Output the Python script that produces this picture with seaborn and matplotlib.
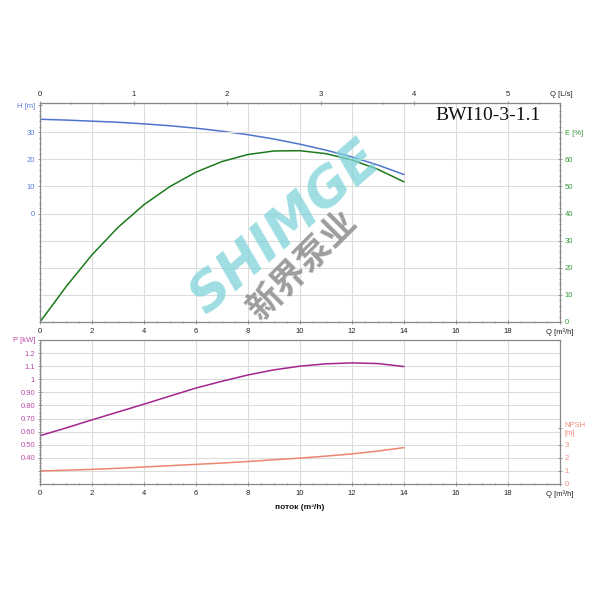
import matplotlib
matplotlib.use("Agg")
import matplotlib.pyplot as plt
import seaborn as sns
from matplotlib.ticker import MultipleLocator

sns.set_style("white")
plt.rcParams['font.family'] = ['Liberation Sans', 'Noto Sans CJK SC', 'DejaVu Sans']

# Pump curve data
flow = [0, 1, 2, 3, 4, 5, 6, 7, 8, 9, 10, 11, 12, 13, 14]          # m3/h
head = [34.8, 34.5, 34.1, 33.7, 33.1, 32.4, 31.5, 30.4, 29.1, 27.5, 25.6, 23.4, 20.9, 17.9, 14.4]
eff = [0, 13.0, 24.8, 34.9, 43.3, 50.0, 55.3, 59.2, 61.8, 63.1, 63.2, 62.1, 59.8, 56.3, 51.7]
power = [0.569, 0.628, 0.69, 0.75, 0.81, 0.872, 0.933, 0.985, 1.033, 1.072, 1.100, 1.118, 1.125, 1.120, 1.097]
npsh = [1.0, 1.05, 1.12, 1.2, 1.3, 1.4, 1.5, 1.6, 1.72, 1.85, 1.98, 2.13, 2.3, 2.52, 2.78]

q_ticks = [0, 2, 4, 6, 8, 10, 12, 14, 16, 18, 20]
q_labels = ['0', '2', '4', '6', '8', '10', '12', '14', '16', '18', 'Q [m³/h]']
ls_ticks = [0, 1, 2, 3, 4, 5]
h_ticks = [0, 10, 20, 30, 40]
h_labels = ['0', '10', '20', '30', 'H [m]']
e_ticks = [0, 10, 20, 30, 40, 50, 60, 70]
e_labels = ['0', '10', '20', '30', '40', '50', '60', 'E [%]']
p_ticks = [0.3, 0.4, 0.5, 0.6, 0.7, 0.8, 0.9, 1.0, 1.1, 1.2, 1.3]
p_labels = ['', '0.40', '0.50', '0.60', '0.70', '0.80', '0.90', '1', '1.1', '1.2', 'P [kW]']
n_ticks = [0, 1, 2, 3, 4.3]
n_labels = ['0', '1', '2', '3', 'NPSH\n[m]']

C_H = '#4f74cc'
C_E = '#1c7a1c'
C_P = '#a3248f'
C_N = '#ee8473'
C_HL = '#5b7fd6'
C_EL = '#3a9a3a'
C_PL = '#b84aa6'
C_NL = '#ee8c7c'
GRID = '#dddddd'
SPINE = '#888888'

fig = plt.figure(figsize=(6, 6), dpi=100)
ax = fig.add_axes([40/600, 1-322/600, 520/600, 219/600])
ax_e = ax.twinx()
ax_lo = fig.add_axes([40/600, 1-484/600, 520/600, 144/600])
ax_n = ax_lo.twinx()

# --- top: head and efficiency ---
sns.lineplot(x=flow, y=head, ax=ax, color=C_H, lw=1.1)
sns.lineplot(x=flow, y=eff, ax=ax_e, color=C_E, lw=1.1)
ax.set_xlim(0, 20)
ax.set_ylim(-40, 40.8)
ax_e.set_ylim(0, 80.8)
ax.set_xticks(q_ticks, q_labels)
ax.xaxis.set_minor_locator(MultipleLocator(0.5))
ax.set_yticks(h_ticks, h_labels)
ax.yaxis.set_minor_locator(MultipleLocator(2))
ax_e.set_yticks(e_ticks, e_labels)
ax_e.yaxis.set_minor_locator(MultipleLocator(2))
ax.grid(axis='x', color=GRID, lw=0.8)
ax_e.grid(axis='y', color=GRID, lw=0.8)
ax.set_axisbelow(True)

sec = ax.secondary_xaxis('top', functions=(lambda q: q / 3.6, lambda l: l * 3.6))
sec.set_xticks(ls_ticks)
sec.xaxis.set_minor_locator(MultipleLocator(1/3))
sec.tick_params(axis='x', which='both', direction='inout', labelsize=5.5, colors=SPINE,
                labelcolor='#222222', length=3, width=0.6, pad=2)
sec.tick_params(axis='x', which='minor', length=2)
sec.spines['top'].set_color(SPINE)
fig.text(550/600, 1-94/600, 'Q [L/s]', fontsize=5.5, ha='left', va='center', color='#222222')

ax.tick_params(axis='y', which='both', direction='inout', labelsize=5.5, colors=SPINE, labelcolor=C_HL,
               length=3, width=0.6, pad=2, left=True)
ax.tick_params(axis='y', which='minor', length=2)
ax_e.tick_params(axis='y', which='both', direction='inout', labelsize=5.5, colors=SPINE, labelcolor=C_EL,
                 length=3, width=0.6, pad=2, right=True)
ax_e.tick_params(axis='y', which='minor', length=2)
ax.tick_params(axis='x', which='both', direction='inout', labelsize=5.5, colors=SPINE, labelcolor='#222222',
               length=3, width=0.6, pad=3, bottom=True)
ax.tick_params(axis='x', which='minor', length=2)

ax.text(0.963, 0.945, 'BWI10-3-1.1', transform=ax.transAxes, ha='right', va='center',
        fontsize=14, family='Liberation Serif', color='#111111')

# --- bottom: power and NPSH ---
sns.lineplot(x=flow, y=power, ax=ax_lo, color=C_P, lw=1.1)
sns.lineplot(x=flow, y=npsh, ax=ax_n, color=C_N, lw=1.1)
ax_lo.set_xlim(0, 20)
ax_lo.set_ylim(0.2, 1.3)
ax_n.set_ylim(0, 11)
ax_lo.set_xticks(q_ticks, q_labels)
ax_lo.xaxis.set_minor_locator(MultipleLocator(0.5))
ax_lo.set_yticks(p_ticks, p_labels)
ax_lo.yaxis.set_minor_locator(MultipleLocator(0.02))
ax_n.set_yticks(n_ticks, n_labels)
ax_n.yaxis.set_minor_locator(MultipleLocator(0.5))
ax_lo.grid(axis='both', which='major', color=GRID, lw=0.8)
ax_lo.set_axisbelow(True)

ax_lo.tick_params(axis='y', which='both', direction='inout', labelsize=5.5, colors=SPINE, labelcolor=C_PL,
                  length=3, width=0.6, pad=2, left=True)
ax_lo.tick_params(axis='y', which='minor', length=2)
ax_n.tick_params(axis='y', which='both', direction='inout', labelsize=5.5, colors=SPINE, labelcolor=C_NL,
                 length=3, width=0.6, pad=2, right=True)
ax_n.tick_params(axis='y', which='minor', length=0)
ax_lo.tick_params(axis='x', which='both', direction='inout', labelsize=5.5, colors=SPINE, labelcolor='#222222',
                  length=3, width=0.6, pad=3, bottom=True)
ax_lo.tick_params(axis='x', which='minor', length=2)
ax_n.get_yticklabels()[-1].set_ha('left')
ax_lo.set_xlabel('поток (m³/h)', fontsize=6, fontweight='bold', labelpad=4, color='#111111')

for a in (ax, ax_e, ax_lo, ax_n):
    for s in a.spines.values():
        s.set_color(SPINE)
        s.set_linewidth(0.8)

# watermark
fig.text(285/600, 1-228/600, 'SHIMGE', fontsize=38, fontweight='heavy', fontstyle='italic',
         family='DejaVu Sans', color='#7fd3da', alpha=0.75, rotation=41, ha='center', va='center')
fig.text(302/600, 1-266/600, '新界泵业', fontsize=25, fontweight='bold', family='Noto Sans CJK SC',
         color='#8c8c8c', alpha=0.85, rotation=45, ha='center', va='center')

fig.savefig('out.png', dpi=100, facecolor='white')
